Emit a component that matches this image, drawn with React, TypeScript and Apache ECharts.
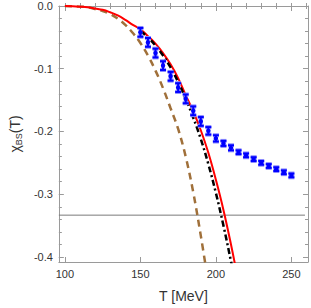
import React, { useEffect, useRef } from "react";
import * as echarts from "echarts";

// ---- data ----
const xMajor = [100, 150, 200, 250];
const xMinor = [100, 110, 120, 130, 140, 150, 160, 170, 180, 190, 200, 210, 220, 230, 240, 250, 260];
const yMajor = [-0.4, -0.3, -0.2, -0.1, 0];
const yMinor = [-0.4, -0.38, -0.36, -0.34, -0.32, -0.3, -0.28, -0.26, -0.24, -0.22, -0.2, -0.18, -0.16, -0.14, -0.12, -0.1, -0.08, -0.06, -0.04, -0.02, 0];

const latticeT = [150, 155, 160, 165, 170, 175, 180, 185, 190, 195, 200, 205, 210, 215, 220, 225, 230, 235, 240, 245, 250];
const latticeChi = [-0.042, -0.058, -0.075, -0.095, -0.112, -0.130, -0.148, -0.167, -0.184, -0.199, -0.211, -0.219, -0.226, -0.233, -0.238, -0.244, -0.250, -0.255, -0.260, -0.265, -0.270];
const latticeErr = [0.007, 0.007, 0.007, 0.007, 0.007, 0.007, 0.007, 0.007, 0.007, 0.006, 0.005, 0.004, 0.004, 0.003, 0.003, 0.003, 0.003, 0.003, 0.003, 0.003, 0.003];

const redT = [100, 105, 110, 115, 120, 125, 130, 135, 140, 145, 150, 155, 160, 165, 170, 175, 180, 185, 190, 195, 200, 205, 210, 213];
const redChi = [0, -0.0003, -0.001, -0.002, -0.004, -0.006, -0.010, -0.015, -0.022, -0.030, -0.037, -0.048, -0.060, -0.075, -0.093, -0.115, -0.142, -0.168, -0.198, -0.234, -0.277, -0.325, -0.380, -0.416];

const blackT = [150, 155, 160, 165, 170, 175, 180, 185, 190, 195, 200, 205, 210, 212];
const blackChi = [-0.040, -0.050, -0.063, -0.079, -0.098, -0.121, -0.148, -0.178, -0.212, -0.252, -0.298, -0.350, -0.407, -0.432];

const brownT = [100, 105, 110, 115, 120, 125, 130, 135, 140, 145, 150, 155, 160, 165, 170, 175, 180, 185, 190, 195];
const brownChi = [0, -0.0003, -0.001, -0.002, -0.005, -0.008, -0.013, -0.020, -0.030, -0.043, -0.059, -0.079, -0.103, -0.131, -0.163, -0.196, -0.240, -0.297, -0.366, -0.442];

const limitT = [96, 259];
const limitChi = [-1 / 3, -1 / 3];

const X_MIN = 96;
const X_MAX = 261;
const Y_MIN = -0.408;
const Y_MAX = 0;

const FRAME = "#9a9a9a";
const FONT = "'Liberation Sans', Arial, sans-serif";

function zip(a: number[], b: number[]) {
  return a.map((v, i) => [v, b[i]]);
}

export default function App() {
  const ref = useRef<HTMLDivElement>(null);
  useEffect(() => {
    if (!ref.current) return;
    const chart = echarts.init(ref.current, null, { renderer: "svg" });

    const baseX = (extra: any) => ({
      type: "value",
      min: X_MIN,
      max: X_MAX,
      splitLine: { show: false },
      axisLine: { show: true, onZero: false, lineStyle: { color: FRAME, width: 1 } },
      axisLabel: { show: false },
      axisTick: { show: false },
      ...extra,
    });
    const baseY = (extra: any) => ({
      type: "value",
      min: Y_MIN,
      max: Y_MAX,
      splitLine: { show: false },
      axisLine: { show: true, onZero: false, lineStyle: { color: FRAME, width: 1 } },
      axisLabel: { show: false },
      axisTick: { show: false },
      ...extra,
    });

    const majorTick = (vals: number[]) => ({ show: true, inside: true, length: 5, customValues: vals, lineStyle: { color: FRAME } });
    const minorTick = (vals: number[]) => ({ show: true, inside: true, length: 3, customValues: vals, lineStyle: { color: FRAME } });

    const option: any = {
      animation: false,
      grid: { left: 51, right: 3, top: 6, bottom: 42, containLabel: false },
      xAxis: [
        baseX({
          position: "bottom",
          axisTick: majorTick(xMajor),
          axisLabel: {
            show: true,
            customValues: xMajor,
            margin: 6,
            color: "#333",
            fontSize: 11,
            fontFamily: FONT,
          },
          name: "T [MeV]",
          nameLocation: "middle",
          nameGap: 27,
          nameTextStyle: { fontSize: 14, color: "#333", fontFamily: FONT },
        }),
        baseX({ position: "bottom", axisLine: { show: false }, axisTick: minorTick(xMinor) }),
        baseX({ position: "top", axisTick: majorTick(xMajor) }),
        baseX({ position: "top", axisLine: { show: false }, axisTick: minorTick(xMinor) }),
      ],
      yAxis: [
        baseY({
          position: "left",
          axisTick: majorTick(yMajor),
          axisLabel: {
            show: true,
            customValues: yMajor,
            margin: 6,
            color: "#333",
            fontSize: 11,
            fontFamily: FONT,
            formatter: (v: number) => v.toFixed(1),
          },
          name: "{a|χ}{b|BS}{a|(T)}",
          nameLocation: "middle",
          nameGap: 33,
          nameRotate: 90,
          nameTextStyle: {
            color: "#333",
            fontFamily: FONT,
            rich: {
              a: { fontSize: 14, color: "#333", fontFamily: FONT, lineHeight: 16, verticalAlign: "middle" },
              b: { fontSize: 9, color: "#333", fontFamily: FONT, lineHeight: 16, verticalAlign: "bottom", padding: [6, 0, 0, 0] },
            },
          },
        }),
        baseY({ position: "left", axisLine: { show: false }, axisTick: minorTick(yMinor) }),
        baseY({ position: "right", axisTick: majorTick(yMajor) }),
        baseY({ position: "right", axisLine: { show: false }, axisTick: minorTick(yMinor) }),
      ],
      series: [
        {
          type: "line",
          data: zip(limitT, limitChi),
          showSymbol: false,
          lineStyle: { color: "#7a7a7a", width: 1 },
          z: 1,
        },
        {
          type: "line",
          data: zip(brownT, brownChi),
          showSymbol: false,
          smooth: 0.4,
          lineStyle: { color: "#a0703a", width: 2.5, type: [7, 5] },
          z: 2,
        },
        {
          type: "line",
          data: zip(redT, redChi),
          showSymbol: false,
          smooth: 0.4,
          lineStyle: { color: "#ff0000", width: 2 },
          z: 3,
        },
        {
          type: "line",
          data: zip(blackT, blackChi),
          showSymbol: false,
          smooth: 0.4,
          lineStyle: { color: "#000000", width: 2.5, type: [6, 3, 2, 3] },
          z: 4,
        },
        {
          type: "custom",
          z: 5,
          data: latticeT.map((t, i) => [t, latticeChi[i], latticeErr[i]]),
          renderItem: (params: any, api: any) => {
            const x = api.value(0);
            const y = api.value(1);
            const e = api.value(2);
            const p = api.coord([x, y]);
            const hi = api.coord([x, y + e]);
            const lo = api.coord([x, y - e]);
            const w = 3;
            const st = { stroke: "#0000ff", lineWidth: 2 };
            const halo = { stroke: "#8c8cff", lineWidth: 4 };
            return {
              type: "group",
              children: [
                { type: "line", shape: { x1: p[0], y1: hi[1], x2: p[0], y2: lo[1] }, style: halo },
                { type: "line", shape: { x1: p[0] - w, y1: hi[1], x2: p[0] + w, y2: hi[1] }, style: halo },
                { type: "line", shape: { x1: p[0] - w, y1: lo[1], x2: p[0] + w, y2: lo[1] }, style: halo },
                { type: "line", shape: { x1: p[0], y1: hi[1], x2: p[0], y2: lo[1] }, style: st },
                { type: "line", shape: { x1: p[0] - w, y1: hi[1], x2: p[0] + w, y2: hi[1] }, style: st },
                { type: "line", shape: { x1: p[0] - w, y1: lo[1], x2: p[0] + w, y2: lo[1] }, style: st },
                { type: "circle", shape: { cx: p[0], cy: p[1], r: 2.2 }, style: { fill: "#0000ff" } },
              ],
            };
          },
        },
      ],
    };
    chart.setOption(option);
    return () => chart.dispose();
  }, []);
  return (
    <div
      ref={ref}
      style={{ position: "absolute", left: 0, top: 0, width: 311, height: 308, background: "#fff" }}
    />
  );
}
